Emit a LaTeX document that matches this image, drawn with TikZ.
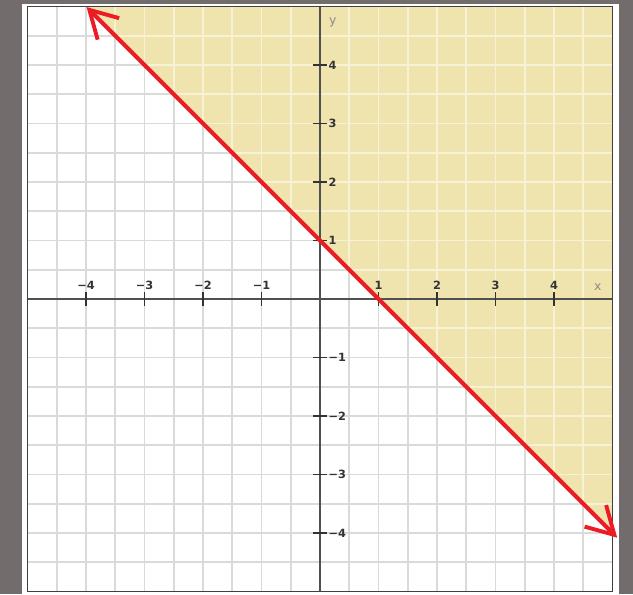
\documentclass[tikz,border=0pt]{standalone}
\usepackage{fontspec}
\setmainfont{DejaVu Sans}
\usetikzlibrary{arrows.meta}
\definecolor{bgray}{RGB}{114,109,108}
\definecolor{tan}{RGB}{239,227,174}
\definecolor{gridw}{RGB}{218,218,218}
\definecolor{gridt}{RGB}{247,241,214}
\definecolor{axc}{RGB}{80,80,80}
\definecolor{redl}{RGB}{236,28,36}
\tikzset{
  gridline/.style={line width=0.9pt},
  axisline/.style={axc, line width=0.6pt},
  tickline/.style={black!80, line width=0.7pt},
  ticklab/.style={font=\fontsize{5.5}{6}\selectfont\bfseries, text=black!80, inner sep=0pt},
  axlab/.style={font=\fontsize{6}{7}\selectfont, text=black!45, inner sep=0pt},
  redarrow/.style={redl, line width=1.9pt, {Straight Barb[length=0.46cm,width=0.52cm,line width=1.9pt]}-{Straight Barb[length=0.46cm,width=0.52cm,line width=1.9pt]}}
}
\begin{document}
\begin{tikzpicture}
\useasboundingbox (-5.470,-5.043) rectangle (5.350,5.111);
\fill[bgray] (-5.470,-5.043) rectangle (5.350,5.111);
\fill[white] (-5.094,-5.043) rectangle (5.111,5.043);
% grid on white
\draw[gridline, gridw] (-5,-5) grid[step=0.5] (5,5);
% shaded half-plane
\fill[tan] (-4,5) -- (5,5) -- (5,-4) -- cycle;
\begin{scope}
  \clip (-4,5) -- (5,5) -- (5,-4) -- cycle;
  \draw[gridline, gridt] (-5,-5) grid[step=0.5] (5,5);
\end{scope}
% axes
\draw[axisline] (-5,0) -- (5,0);
\draw[axisline] (0,-5) -- (0,5);
% frame
\draw[black!75, line width=0.9pt] (-5,-5) rectangle (5,5);
% ticks and labels
\foreach \i/\t in {-4/−4,-3/−3,-2/−2,-1/−1,1/1,2/2,3/3,4/4}{
  \draw[tickline] (\i,-0.12) -- (\i,0.12);
  \node[ticklab] (xl\i) at (\i,0.24) {\t};
  \draw[tickline] (-0.12,\i) -- (0.12,\i);
  \node[ticklab, anchor=west] (yl\i) at (0.14,\i) {\t};
}
\node[axlab] (xname) at (4.75,0.2) {x};
\node[axlab] (yname) at (0.22,4.72) {y};
% boundary line
\coordinate (p1) at (-3.99,4.99);
\coordinate (p2) at (5.08,-4.08);
\draw[redarrow] (p1) -- (p2);
\end{tikzpicture}
\end{document}
